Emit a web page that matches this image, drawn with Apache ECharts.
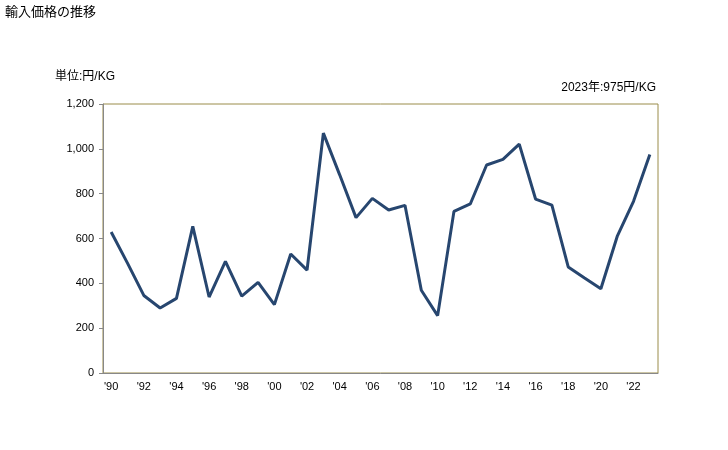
<!DOCTYPE html>
<html><head><meta charset="utf-8">
<script src="https://cdn.jsdelivr.net/npm/echarts@6/dist/echarts.min.js"></script>
<style>html,body{margin:0;padding:0;background:#fff}#c{width:728px;height:450px}</style>
</head><body><div id="c"></div>
<script>
var years = [1990,1991,1992,1993,1994,1995,1996,1997,1998,1999,2000,2001,2002,2003,2004,2005,2006,2007,2008,2009,2010,2011,2012,2013,2014,2015,2016,2017,2018,2019,2020,2021,2022,2023];
var prices = [629,490,346,290,333,654,339,498,343,404,305,531,459,1070,884,693,779,727,748,369,256,721,754,928,953,1021,776,749,473,424,376,609,766,975];
var yTicks = [0,200,400,600,800,1000,1200];
var chart = echarts.init(document.getElementById('c'), null, {renderer:'canvas'});
var font = '"Liberation Sans", "Noto Sans CJK JP", sans-serif';
chart.setOption({
  animation:false,
  textStyle:{fontFamily:font},
  title:[
    {text:'輸入価格の推移', left:5, top:6, padding:0, textStyle:{fontSize:13, fontWeight:'normal', color:'#000', fontFamily:font}},
    {text:'単位:円/KG', left:55, top:71, padding:0, textStyle:{fontSize:12, fontWeight:'normal', color:'#000', fontFamily:font}},
    {text:'2023年:975円/KG', right:72, top:82, padding:0, textStyle:{fontSize:12, fontWeight:'normal', color:'#000', fontFamily:font}}
  ],
  grid:{left:103, right:70, top:104, bottom:77, show:true, borderColor:'#9a8c4a', borderWidth:1},
  xAxis:{type:'category', data:years, boundaryGap:true,
    axisLine:{lineStyle:{color:'#888'}}, axisTick:{show:false},
    axisLabel:{interval:1, color:'#000', fontSize:11, margin:8, formatter:function(v){return "'"+String(v).slice(2);}}},
  yAxis:{type:'value', min:yTicks[0], max:yTicks[yTicks.length-1], interval:200,
    axisLine:{show:true, lineStyle:{color:'#888'}}, axisTick:{show:true, length:4, lineStyle:{color:'#888'}},
    splitLine:{show:false},
    axisLabel:{color:'#000', fontSize:11, margin:9, formatter:function(v){return v.toLocaleString('en-US');}}},
  series:[{type:'line', data:prices, symbol:'none', lineStyle:{color:'#27466f', width:3}}]
});
</script></body></html>
